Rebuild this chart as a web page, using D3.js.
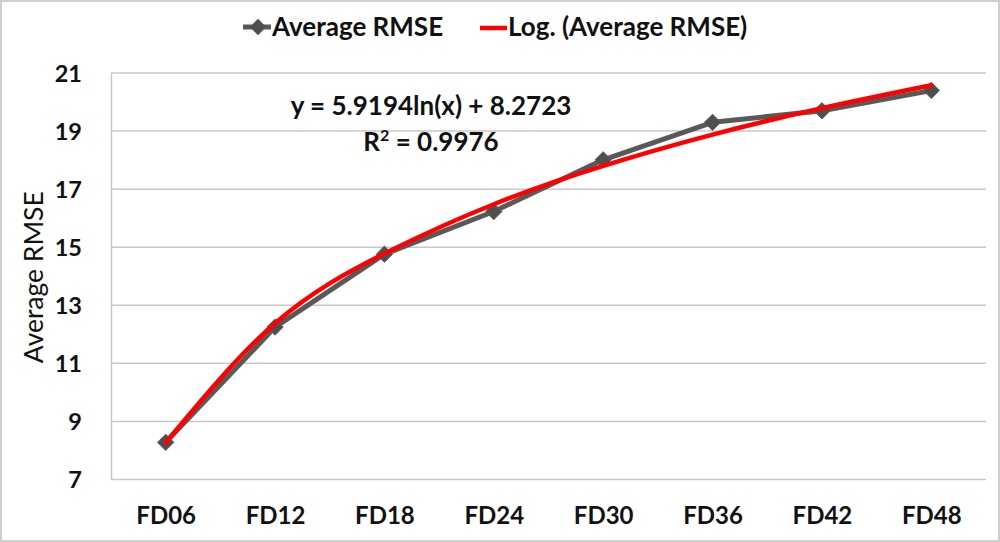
<!DOCTYPE html>
<html>
<head>
<meta charset="utf-8">
<script src="https://cdn.jsdelivr.net/npm/d3@7"></script>
<style>
  body { margin: 0; background: #fff; }
  svg text { font-family: Lato, "Open Sans", sans-serif; fill: #111; }
</style>
</head>
<body>
<svg id="chart" width="1000" height="542"></svg>
<script>
// data
var categories = ["FD06", "FD12", "FD18", "FD24", "FD30", "FD36", "FD42", "FD48"];
var avgRmse = [8.28, 12.25, 14.76, 16.23, 18.01, 19.30, 19.70, 20.40];
// red log trend line, value at each category
var trendValues = [8.27, 12.38, 14.78, 16.48, 17.80, 18.88, 19.79, 20.58];
var yTicks = [7, 9, 11, 13, 15, 17, 19, 21];
var equationText = "y = 5.9194ln(x) + 8.2723";
var r2Value = "0.9976";

var svg = d3.select('#chart');
var margin = {left: 111, right: 14, top: 73, bottom: 63};
var width = 1000, height = 542;

// outer frame
svg.append('rect')
    .attr('x', 1).attr('y', 1)
    .attr('width', width - 2).attr('height', height - 2)
    .attr('fill', '#fff')
    .attr('stroke', '#cfcfcf')
    .attr('stroke-width', 2);

var x = d3.scalePoint()
    .domain(categories)
    .range([margin.left, width - margin.right])
    .padding(0.5);

var y = d3.scaleLinear()
    .domain([7, 21])
    .range([height - margin.bottom + 0.5, margin.top]);

// gridlines
svg.append('g')
    .selectAll('line')
    .data(yTicks)
    .enter()
    .append('line')
    .attr('x1', margin.left)
    .attr('x2', width - margin.right)
    .attr('y1', function(d) { return y(d); })
    .attr('y2', function(d) { return y(d); })
    .attr('stroke', '#c8c8c8')
    .attr('stroke-width', 1.5);

// y axis
var yAxis = svg.append('g')
    .attr('transform', 'translate(' + margin.left + ',0)')
    .call(d3.axisLeft(y).tickValues(yTicks).tickSize(0).tickPadding(29));
yAxis.select('.domain').attr('stroke', '#c8c8c8').attr('stroke-width', 1.5);
yAxis.selectAll('text')
    .attr('font-size', 23.5)
    .attr('font-weight', 'bold')
    .attr('dy', '0.36em');

// x axis
var xAxis = svg.append('g')
    .attr('transform', 'translate(0,' + y(7) + ')')
    .call(d3.axisBottom(x).tickSize(0).tickPadding(27));
xAxis.select('.domain').remove();
xAxis.selectAll('text')
    .attr('font-size', 24)
    .attr('font-weight', 'bold');

// axis title
svg.append('text')
    .attr('transform', 'translate(43,' + ((margin.top + y(7)) / 2 + 1) + ') rotate(-90)')
    .attr('text-anchor', 'middle')
    .attr('font-size', 26.5)
    .text('Average RMSE');

// data line
var line = d3.line()
    .x(function(d, i) { return x(categories[i]); })
    .y(function(d) { return y(d); });

svg.append('path')
    .datum(avgRmse)
    .attr('d', line)
    .attr('fill', 'none')
    .attr('stroke', '#595959')
    .attr('stroke-width', 5)
    .attr('stroke-linejoin', 'round');

var diamond = d3.symbol().type(d3.symbolDiamond2).size(170);

svg.append('g')
    .selectAll('path')
    .data(avgRmse)
    .enter()
    .append('path')
    .attr('d', diamond)
    .attr('transform', function(d, i) {
        return 'translate(' + x(categories[i]) + ',' + y(d) + ')';
    })
    .attr('fill', '#4f4f4f')
    .attr('stroke', '#5f5f5f')
    .attr('stroke-width', 1);

// log trend line
var trendLine = d3.line()
    .x(function(d, i) { return x(categories[i]); })
    .y(function(d) { return y(d); })
    .curve(d3.curveNatural);

svg.append('path')
    .datum(trendValues)
    .attr('d', trendLine)
    .attr('fill', 'none')
    .attr('stroke', '#ff0000')
    .attr('stroke-width', 4.5)
    .attr('stroke-linecap', 'round');

// equation labels
svg.append('text')
    .attr('x', 431).attr('y', 115)
    .attr('text-anchor', 'middle')
    .attr('font-size', 26)
    .attr('font-weight', 'bold')
    .text(equationText);

var r2 = svg.append('text')
    .attr('x', 431).attr('y', 151)
    .attr('text-anchor', 'middle')
    .attr('font-size', 26)
    .attr('font-weight', 'bold');
r2.append('tspan').text('R');
r2.append('tspan').attr('font-size', 16).attr('dy', -10).text('2');
r2.append('tspan').attr('dy', 10).text(' = ' + r2Value);

// legend
var legend = svg.append('g');
legend.append('line')
    .attr('x1', 243).attr('x2', 271)
    .attr('y1', 27).attr('y2', 27)
    .attr('stroke', '#595959').attr('stroke-width', 5);
legend.append('path')
    .attr('d', diamond)
    .attr('transform', 'translate(258,27)')
    .attr('fill', '#4f4f4f');
legend.append('text')
    .attr('x', 272).attr('y', 36)
    .attr('font-size', 26)
    .attr('font-weight', 'bold')
    .text('Average RMSE');

legend.append('line')
    .attr('x1', 480).attr('x2', 507)
    .attr('y1', 28).attr('y2', 28)
    .attr('stroke', '#ff0000').attr('stroke-width', 4.5);
legend.append('text')
    .attr('x', 508).attr('y', 36)
    .attr('font-size', 26)
    .attr('font-weight', 'bold')
    .text('Log. (Average RMSE)');
</script>
</body>
</html>
